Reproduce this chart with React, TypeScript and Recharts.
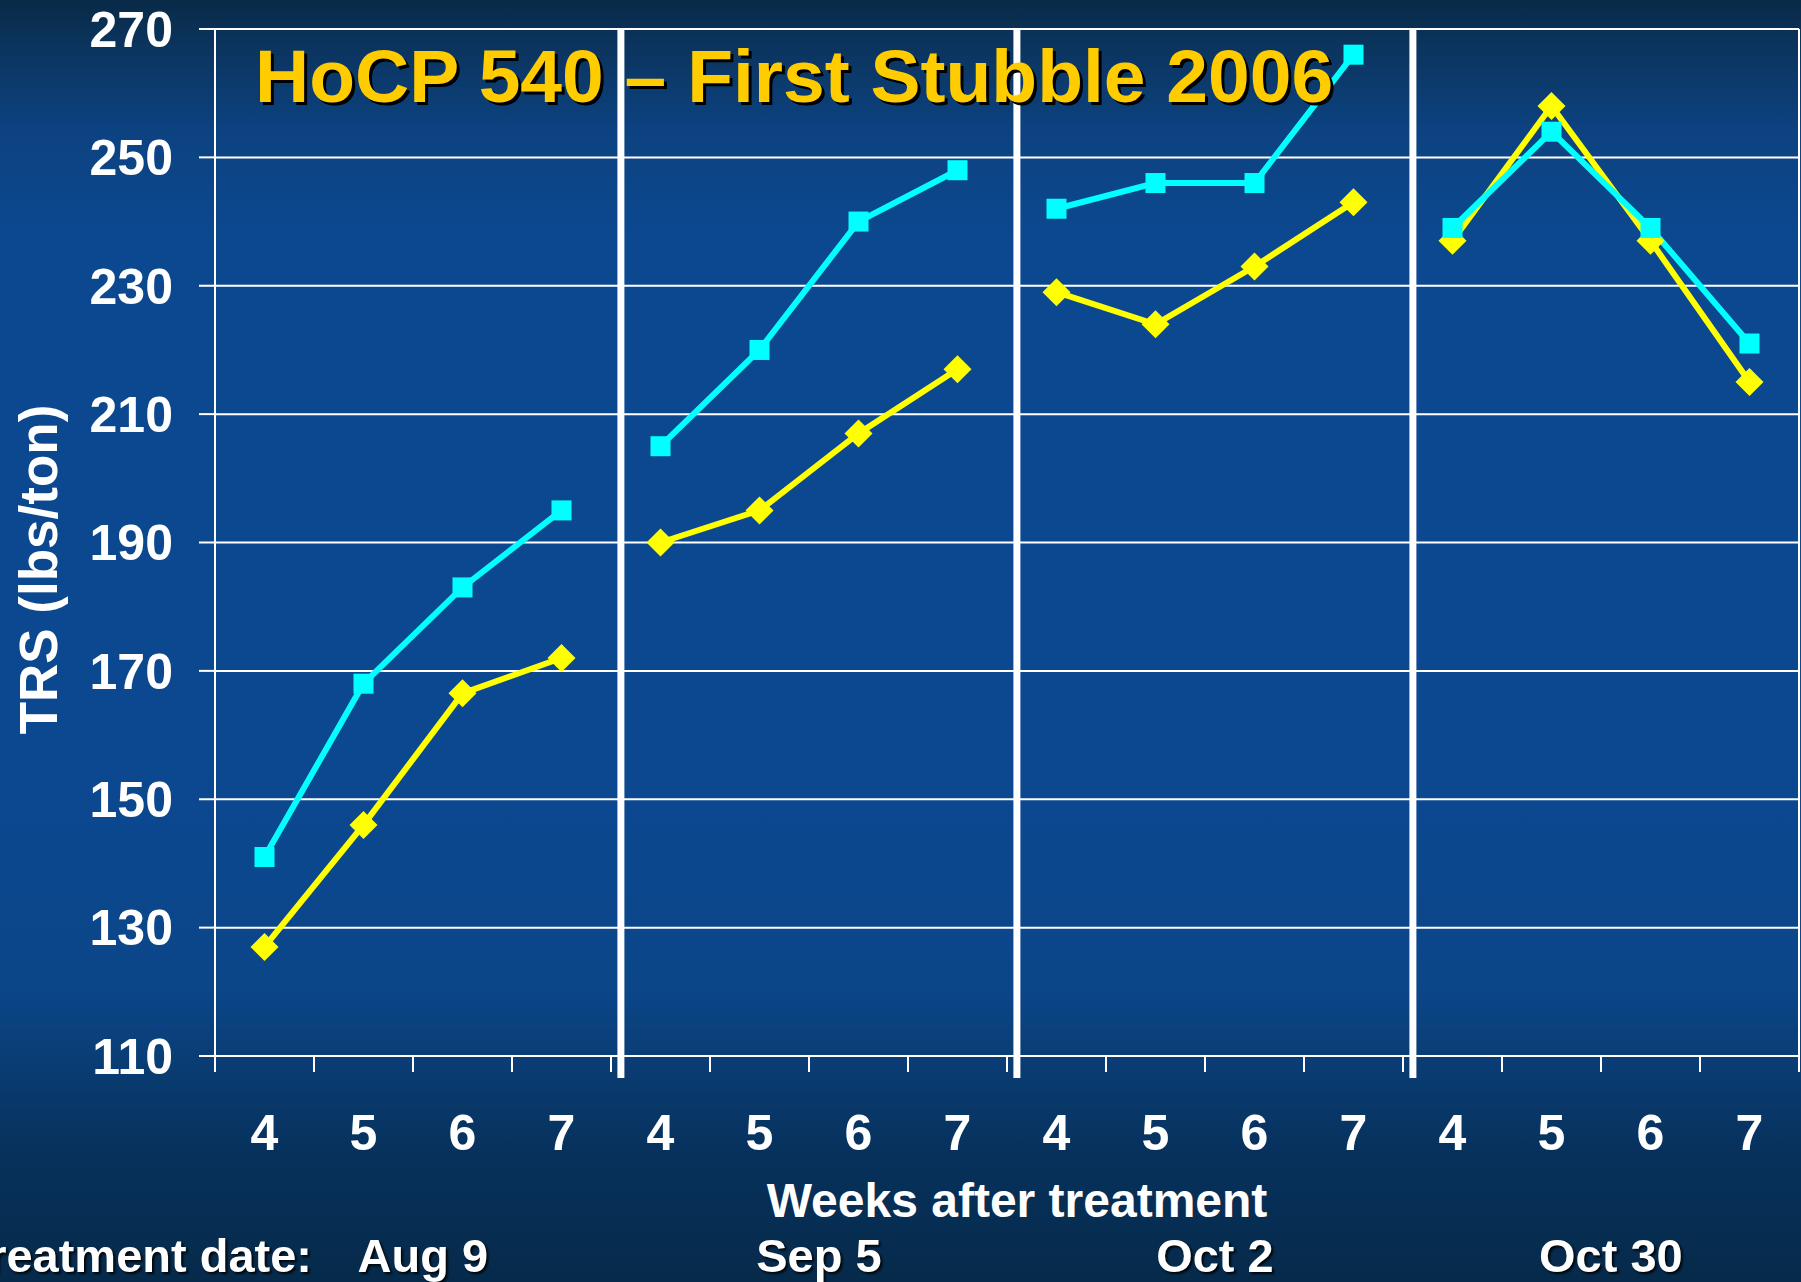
import React, { useEffect } from 'react';
import { LineChart, Line, XAxis, YAxis, CartesianGrid, ReferenceLine, Label } from 'recharts';

const weeks = [4, 5, 6, 7];
const treatmentDates = ['Aug 9', 'Sep 5', 'Oct 2', 'Oct 30'];
const yTicks = [110, 130, 150, 170, 190, 210, 230, 250, 270];

// TRS (lbs/ton) for weeks 4-7 after each treatment date
const cyanTrs = [
  [141, 168, 183, 195],
  [205, 220, 240, 248],
  [242, 246, 246, 266],
  [239, 254, 239, 221],
];
const yellowTrs = [
  [127, 146, 166.5, 172],
  [190, 195, 207, 217],
  [229, 224, 233, 243],
  [237, 258, 237, 215],
];

const FONT = '"Liberation Sans", Arial, Helvetica, sans-serif';
const SHADOW = 'drop-shadow(2px 2px 1px rgba(0,0,0,0.85))';
const CYAN = '#00ffff';
const YELLOW = '#ffff00';

const slots = weeks.length * treatmentDates.length;
const boundaryTicks = Array.from({ length: slots + 1 }, (_, i) => i - 0.5);
const weekTicks = Array.from({ length: slots }, (_, i) => i);
const dateTicks = treatmentDates.map((_, g) => g * weeks.length + 1.6);
const separators = treatmentDates.slice(1).map((_, g) => g * weeks.length + 3.6);
const xTicks = [...boundaryTicks, ...weekTicks, ...dateTicks];

const toSeries = (groups: number[][]) =>
  groups.map((vals, g) => vals.map((trs, i) => ({ slot: g * weeks.length + i, trs })));

const cyanSeries = toSeries(cyanTrs);
const yellowSeries = toSeries(yellowTrs);

const SquareDot = (p: any) => {
  if (p.cx == null || p.cy == null) return null;
  return <rect key={p.key} x={p.cx - 10} y={p.cy - 10} width={20} height={20} fill={CYAN} />;
};

const DiamondDot = (p: any) => {
  if (p.cx == null || p.cy == null) return null;
  const r = 14;
  return (
    <polygon
      key={p.key}
      points={`${p.cx},${p.cy - r} ${p.cx + r},${p.cy} ${p.cx},${p.cy + r} ${p.cx - r},${p.cy}`}
      fill={YELLOW}
    />
  );
};

const Separator = (p: any) => (
  <line
    x1={p.x1}
    x2={p.x2}
    y1={Math.min(p.y1, p.y2)}
    y2={Math.max(p.y1, p.y2) + 22}
    stroke="#ffffff"
    strokeWidth={7}
  />
);

// one x axis carries the boundary tick marks, the week numbers and the treatment dates
const XTick = (p: any) => {
  const v = p.payload.value;
  const { x, y } = p;
  if (Number.isInteger(v)) {
    return (
      <text x={x} y={y + 94} textAnchor="middle" fill="#ffffff" fontSize={50} fontWeight={700} fontFamily={FONT}>
        {weeks[v % weeks.length]}
      </text>
    );
  }
  if (dateTicks.includes(v)) {
    return (
      <text
        x={x}
        y={y + 216}
        textAnchor="middle"
        fill="#ffffff"
        fontSize={47}
        fontWeight={700}
        fontFamily={FONT}
        style={{ filter: SHADOW }}
      >
        {treatmentDates[Math.floor(v / weeks.length)]}
      </text>
    );
  }
  return <line x1={x} x2={x} y1={y} y2={y + 16} stroke="#ffffff" strokeWidth={2} />;
};

export default function App() {
  useEffect(() => {
    document.body.style.margin = '0';
    document.body.style.overflow = 'hidden';
  }, []);

  return (
    <div
      style={{
        position: 'absolute',
        left: 0,
        top: 0,
        width: 1801,
        height: 1282,
        overflow: 'hidden',
        background:
          'linear-gradient(180deg, #092a48 0%, #0b3560 4%, #0c4280 10%, #0c488f 18%, #0c4890 60%, #0b4689 77%, #093b70 84%, #07315c 90%, #062a4a 100%)',
      }}
    >
      <LineChart width={1801} height={1282} margin={{ top: 29, right: 2, bottom: 0, left: 0 }}>
        <CartesianGrid vertical={false} stroke="#ffffff" strokeWidth={2} />
        <XAxis
          dataKey="slot"
          type="number"
          domain={[-0.5, slots - 0.5]}
          ticks={xTicks}
          interval={0}
          height={226}
          tickSize={0}
          tickMargin={0}
          tickLine={false}
          axisLine={{ stroke: '#ffffff', strokeWidth: 2 }}
          tick={<XTick />}
        >
          <Label
            content={(p: any) => (
              <g>
                <text
                  x={p.viewBox.x + p.viewBox.width / 2 + 10}
                  y={p.viewBox.y + 161}
                  textAnchor="middle"
                  fill="#ffffff"
                  fontSize={48}
                  fontWeight={700}
                  fontFamily={FONT}
                >
                  Weeks after treatment
                </text>
                <text
                  x={p.viewBox.x + 97}
                  y={p.viewBox.y + 216}
                  textAnchor="end"
                  fill="#ffffff"
                  fontSize={47}
                  fontWeight={700}
                  fontFamily={FONT}
                  style={{ filter: SHADOW }}
                >
                  Treatment date:
                </text>
              </g>
            )}
          />
        </XAxis>
        <YAxis
          type="number"
          width={215}
          domain={[110, 270]}
          ticks={yTicks}
          interval={0}
          tickSize={16}
          tickMargin={26}
          axisLine={{ stroke: '#ffffff', strokeWidth: 2 }}
          tickLine={{ stroke: '#ffffff', strokeWidth: 2 }}
          tick={{ fill: '#ffffff', fontSize: 50, fontWeight: 700, fontFamily: FONT }}
        >
          <Label
            content={(p: any) => {
              const cx = p.viewBox.x + 38;
              const cy = p.viewBox.y + p.viewBox.height / 2 + 27;
              return (
                <text
                  x={cx}
                  y={cy}
                  transform={`rotate(-90 ${cx} ${cy})`}
                  textAnchor="middle"
                  dominantBaseline="central"
                  fill="#ffffff"
                  fontSize={53}
                  fontWeight={700}
                  fontFamily={FONT}
                >
                  TRS (lbs/ton)
                </text>
              );
            }}
          />
        </YAxis>
        <ReferenceLine x={slots - 0.5} stroke="#ffffff" strokeWidth={2} />
        {separators.map((x) => (
          <ReferenceLine key={x} x={x} shape={Separator} />
        ))}
        {yellowSeries.map((data, g) => (
          <Line
            key={`y${g}`}
            data={data}
            dataKey="trs"
            type="linear"
            stroke={YELLOW}
            strokeWidth={6}
            dot={DiamondDot}
            activeDot={false}
            isAnimationActive={false}
          />
        ))}
        {cyanSeries.map((data, g) => (
          <Line
            key={`c${g}`}
            data={data}
            dataKey="trs"
            type="linear"
            stroke={CYAN}
            strokeWidth={6}
            dot={SquareDot}
            activeDot={false}
            isAnimationActive={false}
          />
        ))}
      </LineChart>
      <svg width={1801} height={140} style={{ position: 'absolute', left: 0, top: 0, pointerEvents: 'none' }}>
        <text
          x={255}
          y={102}
          fill="#ffcc00"
          fontSize={75}
          fontWeight={700}
          fontFamily={FONT}
          style={{ filter: 'drop-shadow(3px 3px 0px #000000)' }}
        >
          HoCP 540 – First Stubble 2006
        </text>
      </svg>
    </div>
  );
}
